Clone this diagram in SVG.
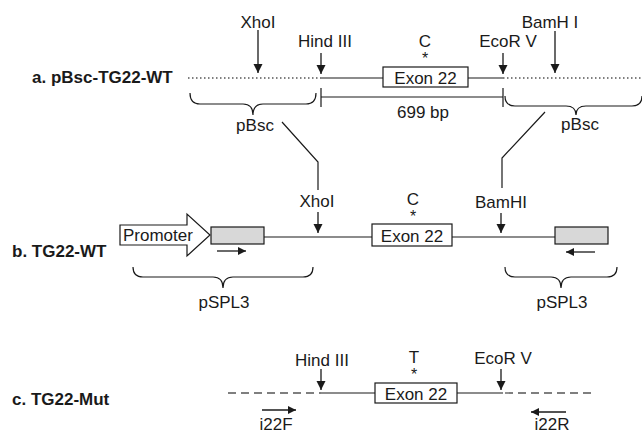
<svg xmlns="http://www.w3.org/2000/svg" width="642" height="434" viewBox="0 0 642 434">
<defs>
<marker id="ah" viewBox="0 0 10 10" refX="10" refY="5" markerWidth="9" markerHeight="10" markerUnits="userSpaceOnUse" orient="auto"><path d="M0,0 L10,5 L0,10 z" fill="#1a1a1a"/></marker>
<marker id="ph" viewBox="0 0 10 10" refX="10" refY="5" markerWidth="10" markerHeight="8" markerUnits="userSpaceOnUse" orient="auto"><path d="M0,0 L10,5 L0,10 z" fill="#1a1a1a"/></marker>
</defs>
<style>
text{font-family:"Liberation Sans",Arial,sans-serif;font-size:17px;fill:#1a1a1a}
.lbl{font-weight:bold}
.m{text-anchor:middle}
.ast{font-size:16px}
.ln{stroke:#1a1a1a;stroke-width:1.2;fill:none}
.dot{stroke:#555;stroke-width:1.3;stroke-dasharray:1.5 2.5;fill:none}
.dash{stroke:#555;stroke-width:1.3;stroke-dasharray:8 5;fill:none}
.ar{stroke:#1a1a1a;stroke-width:1.3;fill:none;marker-end:url(#ah)}
.pr{stroke:#1a1a1a;stroke-width:1.3;fill:none;marker-end:url(#ph)}
.box{fill:#fff;stroke:#1a1a1a;stroke-width:1.2}
.gbox{fill:#d8d8d8;stroke:#1a1a1a;stroke-width:1.2}
.br{stroke:#1a1a1a;stroke-width:1.2;fill:none}
</style>

<g id="connectors">
<path class="ln" d="M282,122 L318,162 L318,190"/>
<path class="ln" d="M545,112 L502,158 L502,188"/>
</g>

<g id="rowA">
<text class="lbl" x="32" y="83">a. pBsc-TG22-WT</text>
<line class="dot" x1="188" y1="78" x2="321" y2="78"/>
<line class="ln" x1="321" y1="78" x2="383" y2="78"/>
<line class="ln" x1="468" y1="78" x2="503" y2="78"/>
<line class="dot" x1="503" y1="78" x2="642" y2="78"/>
<g id="exonA"><rect class="box" x="383" y="67" width="85" height="20"/><text class="m" x="425.5" y="84">Exon 22</text></g>
<text class="m" x="425" y="47">C</text><text class="m ast" x="425" y="64">*</text>
<text class="m" x="258" y="28">XhoI</text><line class="ar" x1="258" y1="30" x2="258" y2="73"/>
<text class="m" x="325" y="47">Hind III</text><line class="ar" x1="321" y1="53" x2="321" y2="74"/>
<text class="m" x="508" y="47">EcoR V</text><line class="ar" x1="503" y1="53" x2="503" y2="74"/>
<text class="m" x="550" y="28">BamH I</text><line class="ar" x1="555" y1="31" x2="555" y2="73"/>
<path class="ln" d="M321,88 V107 M321,97 H503 M503,88 V107"/>
<text class="m" x="423" y="118">699 bp</text>
<path class="br" d="M190,93 Q190,104 200,104 H243 Q253,104 253,115 Q253,104 263,104 H306 Q316,104 316,93"/>
<path class="br" d="M505,96 Q505,106 515,106 H566 Q576,106 576,115 Q576,106 586,106 H632 Q642,106 642,96"/>
<text class="m" x="255" y="131">pBsc</text>
<text class="m" x="580" y="130">pBsc</text>
</g>

<g id="rowB">
<text class="lbl" x="12" y="257">b. TG22-WT</text>
<g id="promoter"><polygon class="box" points="120,225 187,225 187,214 210,235 187,256 187,245 120,245"/><text x="123" y="241">Promoter</text></g>
<rect class="gbox" x="211" y="227" width="53" height="17"/>
<line class="ln" x1="264" y1="237" x2="372" y2="237"/>
<line class="ln" x1="452" y1="237" x2="555" y2="237"/>
<g id="exonB"><rect class="box" x="372" y="224" width="80" height="22"/><text class="m" x="412" y="242">Exon 22</text></g>
<rect class="gbox" x="555" y="227" width="53" height="17"/>
<text class="m" x="317" y="207">XhoI</text><line class="ar" x1="318" y1="212" x2="318" y2="233"/>
<text class="m" x="413" y="205">C</text><text class="m ast" x="413" y="222">*</text>
<text class="m" x="501" y="208">BamHI</text><line class="ar" x1="501" y1="213" x2="501" y2="233"/>
<line class="pr" x1="217" y1="251" x2="246" y2="251"/>
<line class="pr" x1="595" y1="252" x2="566" y2="252"/>
<path class="br" d="M133,267 Q133,277 143,277 H213 Q223,277 223,288 Q223,277 233,277 H303 Q313,277 313,267"/>
<path class="br" d="M505,267 Q505,277 515,277 H551 Q561,277 561,288 Q561,277 571,277 H607 Q617,277 617,267"/>
<text class="m" x="224" y="308">pSPL3</text>
<text class="m" x="562" y="308">pSPL3</text>
</g>

<g id="rowC">
<text class="lbl" x="12" y="405">c. TG22-Mut</text>
<line class="dash" x1="228" y1="393" x2="321" y2="393"/>
<line class="ln" x1="321" y1="393" x2="375" y2="393"/>
<line class="ln" x1="457" y1="393" x2="503" y2="393"/>
<line class="dash" x1="505" y1="393" x2="593" y2="393"/>
<g id="exonC"><rect class="box" x="375" y="383" width="82" height="20"/><text class="m" x="416" y="400">Exon 22</text></g>
<text class="m" x="322" y="366">Hind III</text><line class="ar" x1="321" y1="369" x2="321" y2="390"/>
<text class="m" x="414" y="363">T</text><text class="m ast" x="414" y="380">*</text>
<text class="m" x="503" y="364">EcoR V</text><line class="ar" x1="501" y1="369" x2="501" y2="390"/>
<line class="pr" x1="262" y1="410" x2="296" y2="410"/>
<line class="pr" x1="566" y1="412" x2="531" y2="412"/>
<text class="m" x="276" y="430">i22F</text>
<text class="m" x="552" y="430">i22R</text>
</g>
</svg>
